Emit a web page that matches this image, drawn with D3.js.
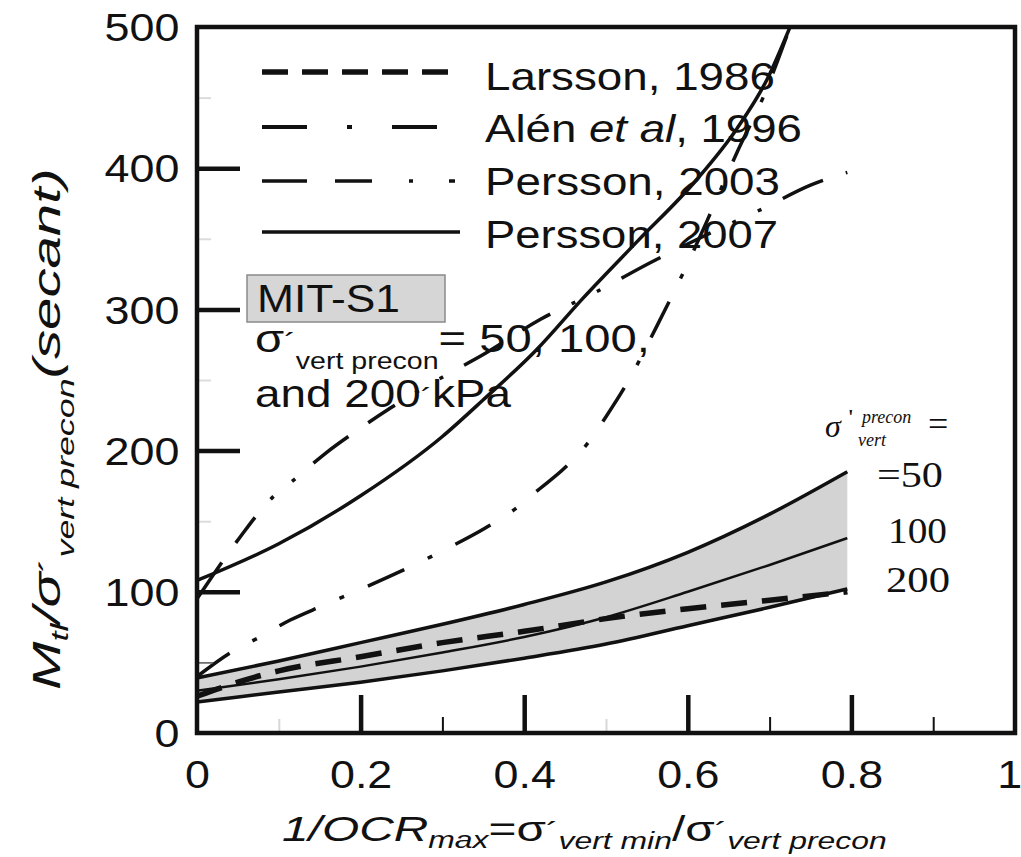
<!DOCTYPE html>
<html><head><meta charset="utf-8">
<script src="https://cdn.jsdelivr.net/npm/d3@7/dist/d3.min.js"></script>
<style>html,body{margin:0;padding:0;background:#fff;} svg{display:block;}</style>
</head><body>
<svg id="chart" width="1021" height="857"></svg>
<script>
// ---------- data ----------
const xTickValues = [0, 0.2, 0.4, 0.6, 0.8, 1];
const xTickLabels = ["0", "0.2", "0.4", "0.6", "0.8", "1"];
const yTickValues = [0, 100, 200, 300, 400, 500];
const yTickLabels = ["0", "100", "200", "300", "400", "500"];
const xMajorInner = [0.2, 0.4, 0.6, 0.8];
const xMinorDark = [0.3, 0.7, 0.9];
const xMinorFaint = [0.1, 0.5];
const yMajorInner = [100, 200, 300, 400];
const yMinorDark = [50];
const yMinorFaint = [150, 250, 350, 450];

// MIT-S1 model, sigma'vert precon = 50, 100, 200 kPa
const mitX   = [0, 0.1, 0.2, 0.3, 0.4, 0.5, 0.6, 0.7, 0.795];
const mit50  = [39, 51, 64, 77, 91, 107, 128, 155, 185];
const mit100 = [30, 38, 47, 57, 68, 82, 100, 119, 138];
const mit200 = [22, 29, 36, 44, 53, 63, 76, 89, 102];

// Larsson, 1986
const larssonX = [0, 0.05, 0.1, 0.2, 0.3, 0.4, 0.5, 0.6, 0.7, 0.795];
const larssonY = [26, 36, 44, 54, 64, 72, 81, 88, 94, 100];
// Alén et al, 1996
const alenX = [0, 0.044, 0.077, 0.114, 0.153, 0.193, 0.232, 0.276, 0.307, 0.352, 0.385, 0.419, 0.45, 0.48, 0.5, 0.526, 0.562, 0.597, 0.623, 0.66, 0.692, 0.725];
const alenY = [40, 58, 68, 80, 90, 100, 110, 122, 131, 145, 157, 173, 188, 207, 224, 248, 288, 329, 362, 411, 450, 500];
// Persson, 2003
const p03X = [0, 0.053, 0.089, 0.122, 0.159, 0.2, 0.236, 0.3, 0.35, 0.42, 0.49, 0.554, 0.62, 0.694, 0.75, 0.795];
const p03Y = [95, 139, 165, 181, 199, 216, 230, 252, 268, 293, 313, 333, 352, 372, 388, 397];
// Persson, 2007
const p07X = [0, 0.1, 0.2, 0.3, 0.35, 0.416, 0.472, 0.538, 0.611, 0.66, 0.697, 0.725];
const p07Y = [108, 134, 168, 210, 236, 272, 308, 348, 392, 428, 463, 500];

const legendNames = ["Larsson, 1986", "Alén et al, 1996", "Persson, 2003", "Persson, 2007"];
const mitLabels = ["=50", "100", "200"];

// ---------- setup ----------
const SANS = "'Liberation Sans', Arial, Helvetica, sans-serif";
const SERIF = "'Liberation Serif', 'Times New Roman', serif";
const INK = "#111";
const svg = d3.select("#chart");
const x = d3.scaleLinear().domain([0, 1]).range([197, 1015]);
const y = d3.scaleLinear().domain([0, 500]).range([733, 27]);

svg.append("defs").append("clipPath").attr("id", "plotclip")
  .append("rect").attr("x", 197).attr("y", 27).attr("width", 818).attr("height", 706);

// text helper: fits text horizontally to a target width (or scale)
function fitText(g, parts, opt) {
  const t = g.append("text").attr("font-family", opt.family || SANS)
    .attr("fill", INK).attr("font-size", opt.size || 38);
  if (opt.italic) t.attr("font-style", "italic");
  parts.forEach(p => {
    const ts = t.append("tspan").text(p.t);
    if (p.size) ts.attr("font-size", p.size);
    if (p.italic) ts.attr("font-style", "italic");
    if (p.upright) ts.attr("font-style", "normal");
    if (p.dy) ts.attr("dy", p.dy);
    if (p.dx) ts.attr("dx", p.dx);
  });
  const bb = t.node().getBBox();
  const s = opt.width ? opt.width / bb.width : (opt.scale || 1);
  const rot = opt.rotate ? " rotate(-90)" : "";
  t.attr("transform", `translate(${opt.x},${opt.y})${rot} scale(${s},1) translate(${-bb.x},0)`);
  return t;
}

// ---------- plot content ----------
const plot = svg.append("g").attr("clip-path", "url(#plotclip)");

const band = mitX.map((v, i) => ({ x: v, lo: mit200[i], hi: mit50[i] }));
plot.append("path").datum(band)
  .attr("d", d3.area().x(d => x(d.x)).y0(d => y(d.lo)).y1(d => y(d.hi)).curve(d3.curveMonotoneX))
  .attr("fill", "#d3d3d3");

function drawLine(xs, ys, w, dash) {
  const pts = xs.map((v, i) => [v, ys[i]]);
  const p = plot.append("path").datum(pts)
    .attr("d", d3.line().x(d => x(d[0])).y(d => y(d[1])).curve(d3.curveMonotoneX))
    .attr("fill", "none").attr("stroke", INK).attr("stroke-width", w)
    .attr("stroke-linecap", "butt");
  if (dash) p.attr("stroke-dasharray", dash);
}

drawLine(mitX, mit50, 3.5);
drawLine(mitX, mit100, 2.5);
drawLine(mitX, mit200, 3.5);
drawLine(larssonX, larssonY, 5.5, "26,15");
drawLine(alenX, alenY, 3.5, "40,26,5,26");
drawLine(p03X, p03Y, 3.5, "44,24,32,24,4,24,4,24");
drawLine(p07X, p07Y, 3.5);

// ---------- axes / ticks ----------
function tickAxis(axisFn, tr, vals, len, w, col) {
  const g = svg.append("g").attr("transform", tr)
    .call(axisFn.tickValues(vals).tickSizeInner(-len).tickSizeOuter(0).tickFormat(""));
  g.select(".domain").remove();
  g.selectAll("line").attr("stroke", col).attr("stroke-width", w);
  return g;
}
tickAxis(d3.axisBottom(x), "translate(0,733)", xMajorInner, 38, 4.5, INK);
tickAxis(d3.axisBottom(x), "translate(0,733)", xMinorDark, 16, 2, INK);
tickAxis(d3.axisBottom(x), "translate(0,733)", xMinorFaint, 14, 2, "#d8d8d8");
tickAxis(d3.axisLeft(y), "translate(197,0)", yMajorInner, 43, 4.5, INK);
tickAxis(d3.axisLeft(y), "translate(197,0)", yMinorDark, 16, 1.5, "#555");
tickAxis(d3.axisLeft(y), "translate(197,0)", yMinorFaint, 14, 2, "#dcdcdc");

// frame
svg.append("rect").attr("x", 197).attr("y", 27).attr("width", 818).attr("height", 706)
  .attr("fill", "none").attr("stroke", INK).attr("stroke-width", 4.5);

// tick labels
const gxl = svg.append("g").attr("transform", "translate(0,733)")
  .call(d3.axisBottom(x).tickValues(xTickValues).tickSize(0).tickPadding(28)
    .tickFormat((d, i) => xTickLabels[i]));
gxl.select(".domain").remove();
gxl.selectAll("text").attr("font-family", SANS).attr("font-size", 38).attr("fill", INK)
  .attr("transform", "scale(1.18,1)");
gxl.selectAll("text").filter((d, i) => i === xTickValues.length - 1).attr("x", -5);

const gyl = svg.append("g").attr("transform", "translate(197,0)")
  .call(d3.axisLeft(y).tickValues(yTickValues).tickSize(0).tickPadding(15)
    .tickFormat((d, i) => yTickLabels[i]));
gyl.select(".domain").remove();
gyl.selectAll("text").attr("font-family", SANS).attr("font-size", 38).attr("fill", INK)
  .attr("dy", "0.36em").attr("transform", "scale(1.18,1)");

// ---------- axis titles ----------
fitText(svg, [
  { t: "1/" , italic: true},
  { t: "OCR", italic: true },
  { t: "max", italic: true, size: 24, dy: 7 },
  { t: "=σ", upright: true, dy: -7 },
  { t: "´", upright: true, size: 28 },
  { t: "vert min", italic: true, size: 24, dy: 8 },
  { t: "/σ", upright: true, dy: -8 },
  { t: "´", upright: true, size: 28 },
  { t: "vert precon", italic: true, size: 24, dy: 8 }
], { x: 282, y: 841, width: 605, size: 36 });

fitText(svg, [
  { t: "M", italic: true },
  { t: "tl", italic: true, size: 24, dy: 8 },
  { t: "/σ", italic: true, dy: -8 },
  { t: "´", upright: true, size: 30 },
  { t: "vert precon", italic: true, size: 24, dy: 14 },
  { t: "(secant)", italic: true, dy: -14 }
], { x: 60, y: 690, width: 522, size: 39, rotate: true });

// ---------- legend ----------
const legendDash = ["26,14", "45,40,5,40", "45,28,37,37,4,36,6,40", null];
const legendW = [5.5, 4, 3.5, 3.5];
const legendLineY = [72, 127, 181, 232];
const legendBase = [90, 142, 195, 248];
const legendWidth = [290, 317, 295, 293];
const lg = svg.append("g");
legendNames.forEach((name, i) => {
  const l = lg.append("line").attr("x1", 262).attr("x2", 460)
    .attr("y1", legendLineY[i]).attr("y2", legendLineY[i])
    .attr("stroke", INK).attr("stroke-width", legendW[i]);
  if (legendDash[i]) l.attr("stroke-dasharray", legendDash[i]);
  let parts;
  if (name.includes("et al")) {
    const [a, b] = name.split("et al");
    parts = [{ t: a }, { t: "et al", italic: true }, { t: b }];
  } else parts = [{ t: name }];
  fitText(lg, parts, { x: 485, y: legendBase[i], width: legendWidth[i], size: 38 });
});

// ---------- MIT-S1 annotation ----------
svg.append("rect").attr("x", 247).attr("y", 275).attr("width", 198).attr("height", 47)
  .attr("fill", "#d6d6d6").attr("stroke", "#8a8a8a").attr("stroke-width", 1.5);
fitText(svg, [{ t: "MIT-S1" }], { x: 257, y: 312, width: 143, size: 38 });
fitText(svg, [
  { t: "σ" },
  { t: "´", size: 28 },
  { t: "vert precon", size: 23, dy: 17 },
  { t: "= 50, 100,", dy: -17 }
], { x: 255, y: 352, width: 395, size: 38 });
fitText(svg, [{ t: "and 200" }, { t: "´", size: 28 }, { t: "kPa" }], { x: 255, y: 407, width: 257, size: 38 });

// right-hand labels
svg.append("text").attr("x", 825).attr("y", 437).attr("font-family", SERIF).attr("font-style", "italic")
  .attr("font-size", 32).attr("fill", INK).text("σ");
svg.append("text").attr("x", 848).attr("y", 424).attr("font-family", SERIF).attr("font-weight", "bold")
  .attr("font-size", 20).attr("fill", INK).text("'");
svg.append("text").attr("x", 862).attr("y", 423).attr("font-family", SERIF).attr("font-style", "italic")
  .attr("font-size", 18).attr("fill", INK).text("precon");
svg.append("text").attr("x", 858).attr("y", 446).attr("font-family", SERIF).attr("font-style", "italic")
  .attr("font-size", 18).attr("fill", INK).text("vert");
svg.append("text").attr("x", 928).attr("y", 436).attr("font-family", SERIF)
  .attr("font-size", 36).attr("fill", INK).text("=");
const mitLabX = [877, 888, 886];
const mitLabY = [487, 543, 592];
const mitLabW = [66, 59, 64];
mitLabels.forEach((s, i) => fitText(svg, [{ t: s }], { x: mitLabX[i], y: mitLabY[i], width: mitLabW[i], size: 36, family: SERIF }));
</script>
</body></html>
